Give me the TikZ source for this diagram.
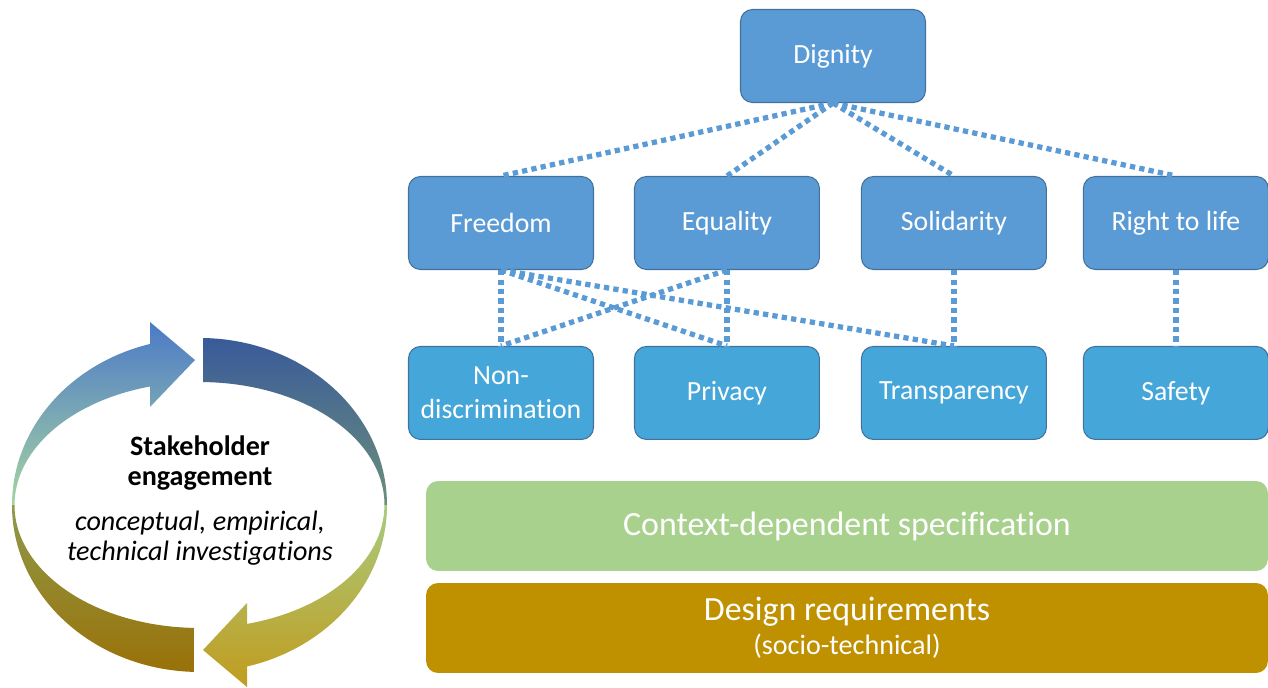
\documentclass[tikz,border=0pt]{standalone}
\usepackage{fontspec}
\setmainfont{Carlito}[Ligatures=NoCommon]
\usetikzlibrary{positioning}

\definecolor{valblue}{HTML}{5B9BD5}
\definecolor{normblue}{HTML}{45A6D9}
\definecolor{boxline}{HTML}{41719C}
\definecolor{specgreen}{HTML}{A9D18E}
\definecolor{reqgold}{HTML}{BF9000}

\tikzset{
  value/.style={draw=boxline, line width=0.6pt, fill=valblue, rounded corners=0.24cm,
    minimum width=3.7cm, minimum height=1.86cm, text=white, align=center,
    font=\fontsize{15.8}{19.5}\selectfont},
  norm/.style={value, fill=normblue},
  link/.style={draw=valblue, line width=3pt, dash pattern=on 3pt off 2.4pt},
  bar/.style={rounded corners=0.24cm, minimum width=16.84cm, minimum height=1.8cm,
    text=white, align=center},
}

\begin{document}
\begin{tikzpicture}[x=0.02cm, y=0.02cm, on grid]
\useasboundingbox (0,0) rectangle (1268,687);

% values
\node[value] (dignity) at (833,631) {Dignity};
\node[value] (freedom) at (501,464) {Freedom};
\node[value, right=4.52cm of freedom] (equality) {Equality};
\node[value, right=4.54cm of equality] (solidarity) {Solidarity};
\node[value, right=4.44cm of solidarity] (life) {Right to life};

% norms
\node[norm, below=3.4cm of freedom] (nondisc) {Non-\\discrimination};
\node[norm, below=3.4cm of equality] (privacy) {Privacy};
\node[norm, below=3.4cm of solidarity] (transp) {Transparency};
\node[norm, below=3.4cm of life] (safety) {Safety};

\foreach \v in {freedom, equality, solidarity, life}
  \draw[link] (dignity.south) -- (\v.north);
\draw[link] (freedom.south) -- (nondisc.north);
\draw[link] (freedom.south) -- (privacy.north);
\draw[link] (freedom.south) -- (transp.north);
\draw[link] (equality.south) -- (nondisc.north);
\draw[link] (equality.south) -- (privacy.north);
\draw[link] (solidarity.south) -- (transp.north);
\draw[link] (life.south) -- (safety.north);

% bars
\node[bar, fill=specgreen, font=\fontsize{19.3}{23}\selectfont] (spec) at (847,161)
  {Context-dependent specification};
\node[bar, fill=reqgold, font=\fontsize{16}{19.5}\selectfont] (req) at (847,59)
  {{\fontsize{19.3}{19.5}\selectfont Design requirements}\\(socio-technical)};

% cycle
\shade[top color={rgb,255:red,76;green,122;blue,199}, bottom color={rgb,255:red,166;green,212;blue,162}]
  (12,182) arc[start angle=180, end angle=105.3, x radius=3.75cm, y radius=3.34cm]
  -- (150,365) -- (195,327) -- (150,280)
  -- (150.07,300.5) arc[start angle=105.5, end angle=180, x radius=3.7cm, y radius=2.46cm] -- cycle;
\shade[top color={rgb,255:red,57;green,90;blue,154}, bottom color={rgb,255:red,108;green,144;blue,122}]
  (203.1,349) arc[start angle=88.9, end angle=0, x radius=3.75cm, y radius=3.34cm]
  -- (384.5,182) arc[start angle=0, end angle=88.9, x radius=3.7cm, y radius=2.46cm] -- cycle;
\shade[top color={rgb,255:red,168;green,203;blue,128}, bottom color={rgb,255:red,193;green,156;blue,30}]
  (387,182) arc[start angle=0, end angle=-75.3, x radius=3.75cm, y radius=3.34cm]
  -- (247,0) -- (203,37) -- (247,84)
  -- (247,63.1) arc[start angle=-75.1, end angle=0, x radius=3.7cm, y radius=2.46cm] -- cycle;
\shade[top color={rgb,255:red,142;green,154;blue,74}, bottom color={rgb,255:red,154;green,113;blue,8}]
  (193.9,15.1) arc[start angle=268.3, end angle=180, x radius=3.75cm, y radius=3.34cm]
  -- (14.5,182) arc[start angle=180, end angle=268.3, x radius=3.7cm, y radius=2.46cm] -- cycle;

\node[font=\fontsize{16}{17}\selectfont\bfseries, align=center] (stake) at (200,224)
  {Stakeholder\\engagement};
\node[font=\fontsize{16}{17}\selectfont\itshape, align=center] (invest) at (200,149)
  {conceptual, empirical,\\technical investigations};
\end{tikzpicture}
\end{document}
